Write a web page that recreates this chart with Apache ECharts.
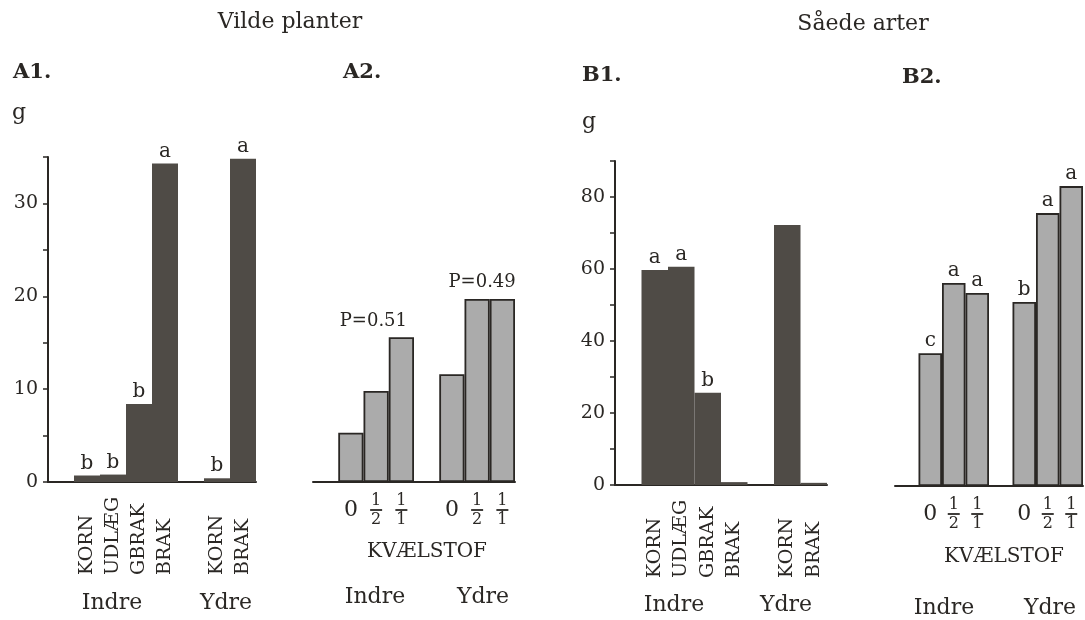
<!DOCTYPE html>
<html><head><meta charset="utf-8">
<script src="https://cdn.jsdelivr.net/npm/echarts@6.0.0/dist/echarts.min.js"></script>
<style>html,body{margin:0;padding:0;background:#fff}#c{width:1085px;height:620px}</style>
</head><body><div id="c"></div>
<script>
// ---- data ----
const catsCrop = ['', 'KORN', 'UDLÆG', 'GBRAK', 'BRAK', '', 'KORN', 'BRAK'];
const catsN = ['', '0', '1/2', '1/1', '', '0', '1/2', '1/1'];
const valsA1 = [null, 0.7, 0.8, 8.4, 34.3, null, 0.4, 34.8];
const lettersA1 = ['', 'b', 'b', 'b', 'a', '', 'b', 'a'];
const valsA2 = [null, 5.3, 9.8, 15.6, null, 11.6, 19.7, 19.7];
const pTextsA2 = ['P=0.51', 'P=0.49'];
const valsB1 = [null, 59.7, 60.6, 25.6, 0.8, null, 72.2, 0.6];
const lettersB1 = ['', 'a', 'a', 'b', '', '', '', ''];
const valsB2 = [null, 36.9, 56.4, 53.6, null, 51.1, 75.8, 83.3];
const lettersB2 = ['', 'c', 'a', 'a', '', 'b', 'a', 'a'];
const ticksA = [0, 10, 20, 30];
const ticksB = [0, 20, 40, 60, 80];

// ---- style ----
const F = 'DejaVu Serif';
const ink = '#2a2724';
const dark = '#4f4b46';
const gray = '#ababab';

const chart = echarts.init(document.getElementById('c'), null, {renderer: 'canvas'});

function lettered(vals, letters) {
  return vals.map((v, i) => v == null ? null : {
    value: v,
    label: {show: !!letters[i], formatter: letters[i] || ''}
  });
}
// P labels: Indre on its tallest bar (1/1), Ydre on the 1/2 bar
const pIdx = [3, 6];
const pOff = [[-28, -2], [5, -3]];
const dataA2 = valsA2.map((v, i) => {
  if (v == null) return null;
  const k = pIdx.indexOf(i);
  return k < 0 ? v : {value: v, label: {show: true, formatter: pTextsA2[k], offset: pOff[k]}};
});

const letterLabel = {show: true, position: 'top', distance: 2, fontFamily: F, fontSize: 20, color: ink};

function cropX(gi) {
  return {
    type: 'category', gridIndex: gi, data: catsCrop,
    axisLine: {show: true, lineStyle: {color: ink, width: 2}},
    axisTick: {show: false},
    axisLabel: {interval: 0, rotate: 90, align: 'left', verticalAlign: 'middle', margin: 93,
      fontFamily: F, fontSize: 19, color: ink, hideOverlap: false}
  };
}
function nX(gi) {
  return {
    type: 'category', gridIndex: gi, data: catsN,
    axisLine: {show: true, lineStyle: {color: ink, width: 2}},
    axisTick: {show: false},
    axisLabel: {interval: 0, margin: 12, overflow: 'none',
      formatter: function (v) {
        if (!v) return '';
        if (v.indexOf('/') < 0) return '{z|' + v + '}';
        const p = v.split('/');
        return '{n|' + p[0] + '}\n{bar| }\n{d|' + p[1] + '}';
      },
      rich: {
        z: {fontFamily: F, fontSize: 22, lineHeight: 32, color: ink},
        n: {fontFamily: F, fontSize: 16, lineHeight: 13, color: ink},
        bar: {fontSize: 6, width: 12, height: 1.8, lineHeight: 6, backgroundColor: ink},
        d: {fontFamily: F, fontSize: 16, lineHeight: 13, color: ink}
      }
    }
  };
}
function valY(gi, max, ticks, show) {
  return {
    type: 'value', gridIndex: gi, min: 0, max: max, interval: 5 * (max > 50 ? 2 : 1), show: show,
    splitLine: {show: false},
    axisLine: {show: true, lineStyle: {color: ink, width: 2}},
    axisTick: {show: true, length: 5, lineStyle: {color: ink, width: 1.5}},
    axisLabel: {margin: 10, fontFamily: F, fontSize: 19, color: ink,
      formatter: v => ticks.indexOf(v) >= 0 ? String(v) : ''}
  };
}

function txt(text, x, y, size, opts) {
  opts = opts || {};
  return {type: 'text', x: x, y: y, silent: true, style: {
    text: text, fill: ink, font: (opts.bold ? 'bold ' : '') + size + 'px "' + F + '"',
    align: opts.align || 'center', textAlign: opts.align || 'center',
    verticalAlign: 'middle', textVerticalAlign: 'middle'
  }};
}

const option = {
  backgroundColor: '#fff',
  animation: false,
  grid: [
    {left: 48, top: 157, width: 208, height: 325},
    {left: 313, top: 157, width: 202, height: 325},
    {left: 615, top: 161, width: 212, height: 324},
    {left: 895, top: 162, width: 188, height: 324}
  ],
  xAxis: [cropX(0), nX(1), cropX(2), nX(3)],
  yAxis: [valY(0, 35, ticksA, true), valY(1, 35, ticksA, false), valY(2, 90, ticksB, true), valY(3, 90, ticksB, false)],
  series: [
    {type: 'bar', xAxisIndex: 0, yAxisIndex: 0, barCategoryGap: '0%', data: lettered(valsA1, lettersA1),
      itemStyle: {color: dark}, label: letterLabel},
    {type: 'bar', xAxisIndex: 1, yAxisIndex: 1, barCategoryGap: '0%', data: dataA2,
      itemStyle: {color: gray, borderColor: ink, borderWidth: 1.8},
      label: {show: false, position: 'top', distance: 5, fontFamily: F, fontSize: 18, color: ink}},
    {type: 'bar', xAxisIndex: 2, yAxisIndex: 2, barCategoryGap: '0%', data: lettered(valsB1, lettersB1),
      itemStyle: {color: dark}, label: letterLabel},
    {type: 'bar', xAxisIndex: 3, yAxisIndex: 3, barCategoryGap: '0%', data: lettered(valsB2, lettersB2),
      itemStyle: {color: gray, borderColor: ink, borderWidth: 1.8}, label: letterLabel}
  ],
  graphic: [
    txt('Vilde planter', 290, 22, 22),
    txt('Såede arter', 863, 24, 22),
    txt('A1.', 13, 73, 21, {bold: true, align: 'left'}),
    txt('A2.', 343, 73, 21, {bold: true, align: 'left'}),
    txt('B1.', 582, 76, 21, {bold: true, align: 'left'}),
    txt('B2.', 902, 78, 21, {bold: true, align: 'left'}),
    txt('g', 12, 113, 22, {align: 'left'}),
    txt('g', 582, 122, 22, {align: 'left'}),
    txt('Indre', 112, 603, 22), txt('Ydre', 226, 603, 22),
    txt('KVÆLSTOF', 427, 552, 20), txt('Indre', 375, 597, 22), txt('Ydre', 483, 597, 22),
    txt('Indre', 674, 605, 22), txt('Ydre', 786, 605, 22),
    txt('KVÆLSTOF', 1004, 557, 20), txt('Indre', 944, 608, 22), txt('Ydre', 1050, 608, 22)
  ]
};
chart.setOption(option);
</script>
</body></html>
